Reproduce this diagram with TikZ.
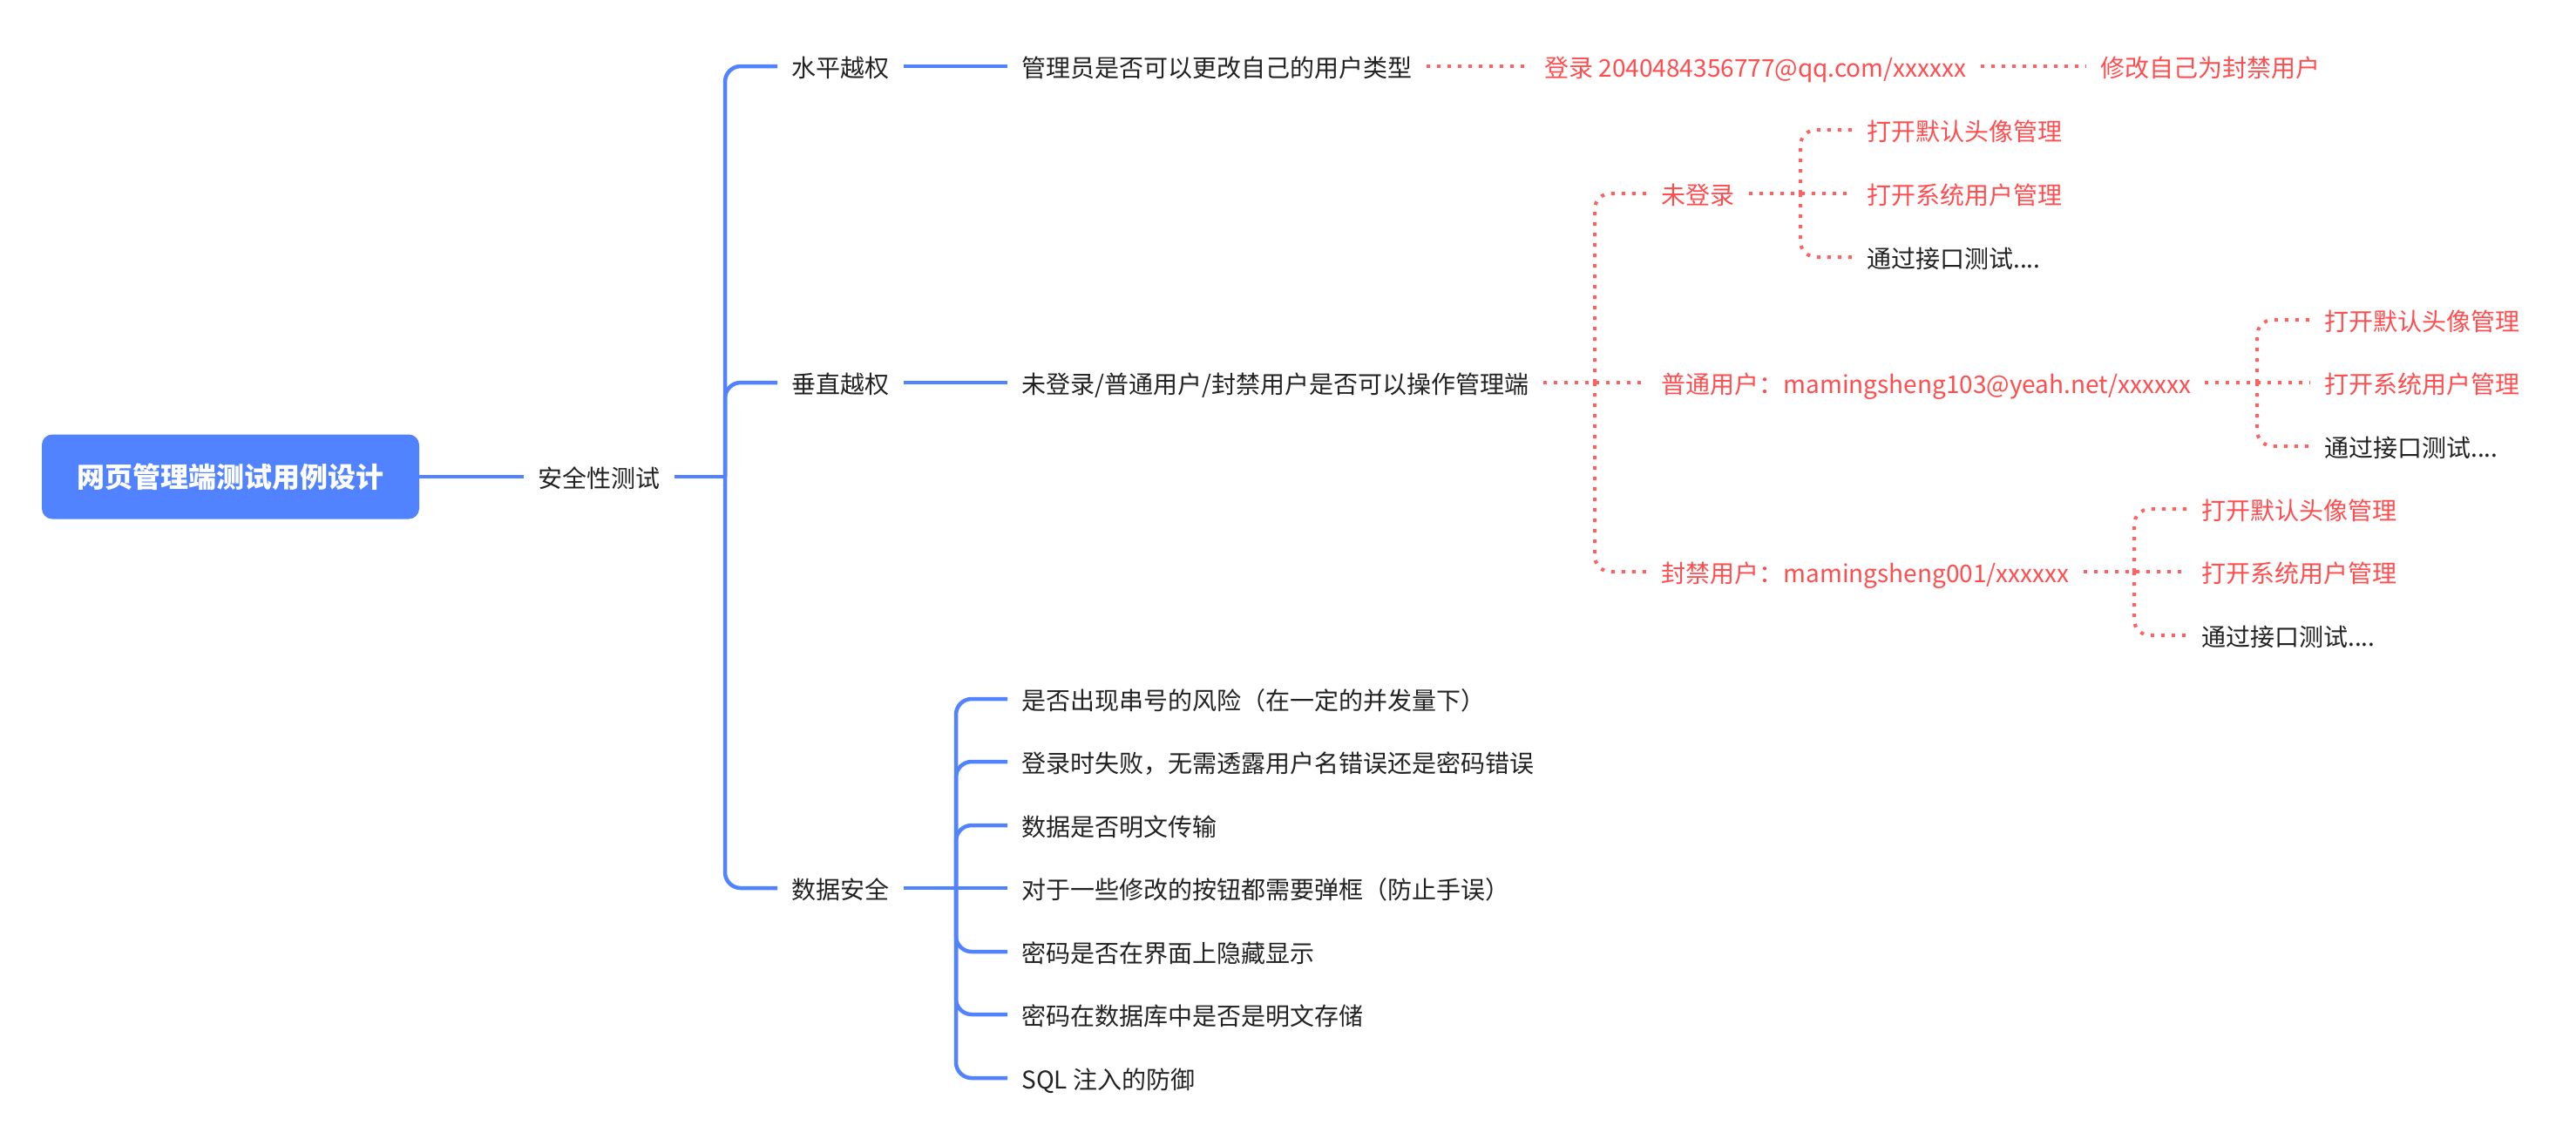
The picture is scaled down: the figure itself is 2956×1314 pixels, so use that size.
\documentclass[tikz,border=0pt]{standalone}
\usepackage{fontspec}
\setmainfont{Noto Sans CJK SC}
\definecolor{linkblue}{RGB}{81, 130, 255}
\definecolor{alertred}{RGB}{255, 77, 79}
\definecolor{dotred}{RGB}{255, 96, 96}
\definecolor{inkblack}{RGB}{34, 34, 34}
\tikzset{
    rootbox/.style={fill=linkblue, text=white, rounded corners=6pt, font=\fontsize{16}{16}\bfseries\selectfont, minimum width=216.5pt, minimum height=48.5pt, inner sep=0pt},
    item/.style={anchor=west, text=inkblack, font=\fontsize{14}{14}\selectfont, inner xsep=8pt, inner ysep=0pt, text height=13.5pt, text depth=1.4pt},
    reditem/.style={item, text=alertred},
    mainlink/.style={draw=linkblue, line width=2.25pt, rounded corners=9pt},
    dotlink/.style={draw=dotred, line width=2pt, rounded corners=9pt, dash pattern=on 2pt off 4pt}
}

\begin{document}
\begin{tikzpicture}[x=0.5pt, y=-0.5pt]
            \useasboundingbox (0, 0) rectangle (2956, 1314);
            % left part
            \node[rootbox]           (root)    at ( 264.5,  547) {网页管理端测试用例设计};
            \node[item]              (safety)  at ( 601,  547) {安全性测试};
            \node[item]              (horiz)   at ( 892,   76) {水平越权};
            \node[item]              (vert)    at ( 892,  439) {垂直越权};
            \node[item]              (data)    at ( 892, 1019) {数据安全};
            \coordinate              (forkA)   at ( 832,  547);
            \coordinate              (forkB)   at (1097, 1019);
            % horizontal row
            \node[item]              (hcase)   at (1156,   76) {管理员是否可以更改自己的用户类型};
            \node[reditem]           (hlogin)  at (1756,   76) {登录 2040484356777@qq.com/xxxxxx};
            \node[reditem]           (hban)    at (2394,   76) {修改自己为封禁用户};
            % vertical row
            \node[item]              (vcase)   at (1156,  439) {未登录/普通用户/封禁用户是否可以操作管理端};
            \coordinate              (forkC)   at (1830,  439);
            \node[reditem]           (guest)   at (1890,  222) {未登录};
            \node[reditem]           (normal)  at (1890,  439) {普通用户：mamingsheng103@yeah.net/xxxxxx};
            \node[reditem]           (banned)  at (1890,  656) {封禁用户：mamingsheng001/xxxxxx};
            \coordinate              (forkD)   at (2066,  222);
            \coordinate              (forkE)   at (2590,  439);
            \coordinate              (forkF)   at (2449,  656);
            \node[reditem]           (guestA)  at (2126,  149) {打开默认头像管理};
            \node[reditem]           (guestB)  at (2126,  222) {打开系统用户管理};
            \node[item]              (guestC)  at (2126,  295) {通过接口测试....};
            \node[reditem]           (normalA) at (2651,  367) {打开默认头像管理};
            \node[reditem]           (normalB) at (2651,  439) {打开系统用户管理};
            \node[item]              (normalC) at (2651,  512) {通过接口测试....};
            \node[reditem]           (bannedA) at (2510,  584) {打开默认头像管理};
            \node[reditem]           (bannedB) at (2510,  656) {打开系统用户管理};
            \node[item]              (bannedC) at (2510,  729) {通过接口测试....};
            % data row
            \node[item]              (dataA)   at (1156,  802) {是否出现串号的风险（在一定的并发量下）};
            \node[item]              (dataB)   at (1156,  874) {登录时失败，无需透露用户名错误还是密码错误};
            \node[item]              (dataC)   at (1156,  947) {数据是否明文传输};
            \node[item]              (dataD)   at (1156, 1019) {对于一些修改的按钮都需要弹框（防止手误）};
            \node[item]              (dataE)   at (1156, 1092) {密码是否在界面上隐藏显示};
            \node[item]              (dataF)   at (1156, 1164) {密码在数据库中是否是明文存储};
            \node[item]              (dataG)   at (1156, 1237) {SQL 注入的防御};
            % blue connectors
            \draw[mainlink] (root.east) -- (safety.west);
            \draw[mainlink] (safety.east) -- (forkA);
            \draw[mainlink] (forkA) |- (horiz.west);
            \draw[mainlink] (forkA) |- (vert.west);
            \draw[mainlink] (forkA) |- (data.west);
            \draw[mainlink] (horiz.east) -- (hcase.west);
            \draw[mainlink] (vert.east) -- (vcase.west);
            \draw[mainlink] (data.east) -- (dataD.west);
            \draw[mainlink] (forkB) |- (dataA.west);
            \draw[mainlink] (forkB) |- (dataB.west);
            \draw[mainlink] (forkB) |- (dataC.west);
            \draw[mainlink] (forkB) |- (dataE.west);
            \draw[mainlink] (forkB) |- (dataF.west);
            \draw[mainlink] (forkB) |- (dataG.west);
            % red dotted connectors
            \draw[dotlink] (hcase.east) -- (hlogin.west);
            \draw[dotlink] (hlogin.east) -- (hban.west);
            \draw[dotlink] (vcase.east) -- (normal.west);
            \draw[dotlink] (forkC) |- (guest.west);
            \draw[dotlink] (forkC) |- (banned.west);
            \draw[dotlink] (guest.east) -- (guestB.west);
            \draw[dotlink] (forkD) |- (guestA.west);
            \draw[dotlink] (forkD) |- (guestC.west);
            \draw[dotlink] (normal.east) -- (normalB.west);
            \draw[dotlink] (forkE) |- (normalA.west);
            \draw[dotlink] (forkE) |- (normalC.west);
            \draw[dotlink] (banned.east) -- (bannedB.west);
            \draw[dotlink] (forkF) |- (bannedA.west);
            \draw[dotlink] (forkF) |- (bannedC.west);
        \end{tikzpicture}
\end{document}
